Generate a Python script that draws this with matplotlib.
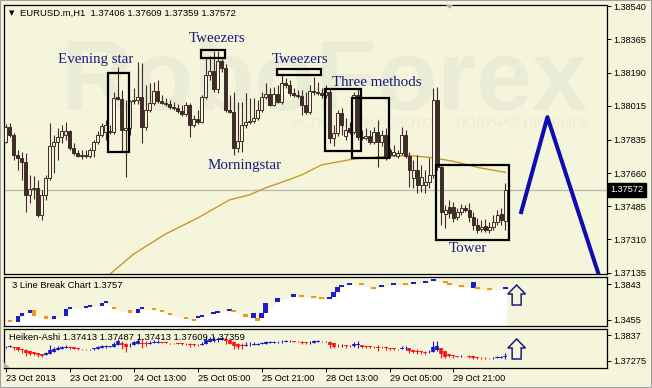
import matplotlib
matplotlib.use("Agg")
import matplotlib.pyplot as plt
import numpy as np
from matplotlib.patches import Rectangle, Polygon
from matplotlib.transforms import ScaledTranslation

plt.rcParams['font.family'] = ['Liberation Sans', 'DejaVu Sans']

W, H, DPI = 652, 388, 100
BG = '#f5f5dc'
CANDLE = '#3f2b27'
NAVY = '#1a1a7e'

# ---------------- data ----------------
title_text = "EURUSD.m,H1  1.37406 1.37609 1.37359 1.37572"

opens = [1.37824, 1.37903, 1.37860, 1.37755, 1.37740, 1.37719, 1.37545, 1.37576, 1.37582, 1.37440,
         1.37545, 1.37634, 1.37803, 1.37824, 1.37850, 1.37860, 1.37882, 1.37792, 1.37766, 1.37750,
         1.37755, 1.37750, 1.37782, 1.37824, 1.37860, 1.37876, 1.37882, 1.37876, 1.38061, 1.38050,
         1.37887, 1.37897, 1.38040, 1.38045, 1.38061, 1.37903, 1.37992, 1.38029, 1.38092, 1.38040,
         1.38029, 1.38024, 1.38008, 1.38003, 1.37987, 1.37971, 1.38019, 1.37913, 1.37945, 1.37929,
         1.38061, 1.38177, 1.38198, 1.38103, 1.38251, 1.38214, 1.37992, 1.37982, 1.37792, 1.37829,
         1.37913, 1.37929, 1.37934, 1.37950, 1.37992, 1.38061, 1.38077, 1.38019, 1.38077, 1.38034,
         1.38135, 1.38124, 1.38082, 1.38071, 1.38066, 1.38019, 1.37982, 1.38092, 1.38087, 1.38082,
         1.38071, 1.38087, 1.37845, 1.37871, 1.37976, 1.37855, 1.37897, 1.37876, 1.38071, 1.37850,
         1.37845, 1.37855, 1.37824, 1.37876, 1.37824, 1.37860, 1.37782, 1.37755, 1.37750, 1.37766,
         1.37860, 1.37750, 1.37634, 1.37676, 1.37598, 1.37598, 1.37613, 1.37650, 1.38045, 1.37692,
         1.37445, 1.37482, 1.37482, 1.37429, 1.37455, 1.37477, 1.37466, 1.37429, 1.37387, 1.37366,
         1.37381, 1.37361, 1.37376, 1.37403, 1.37445, 1.37406]
highs = [1.37919, 1.37924, 1.37871, 1.37782, 1.37771, 1.37766, 1.37650, 1.37645, 1.37624, 1.37571,
         1.37650, 1.37924, 1.37860, 1.37897, 1.37913, 1.37929, 1.37887, 1.37818, 1.37782, 1.37782,
         1.37782, 1.37792, 1.37834, 1.37882, 1.37924, 1.37940, 1.37913, 1.38087, 1.38219, 1.38098,
         1.38045, 1.38045, 1.38108, 1.38245, 1.38240, 1.38124, 1.38135, 1.38140, 1.38150, 1.38071,
         1.38056, 1.38045, 1.38034, 1.38024, 1.38019, 1.38034, 1.38029, 1.37966, 1.37992, 1.38071,
         1.38266, 1.38277, 1.38303, 1.38303, 1.38261, 1.38235, 1.38071, 1.38087, 1.38034, 1.38034,
         1.38082, 1.38056, 1.38056, 1.38045, 1.38087, 1.38135, 1.38108, 1.38114, 1.38124, 1.38177,
         1.38161, 1.38150, 1.38108, 1.38098, 1.38098, 1.38087, 1.38124, 1.38166, 1.38140, 1.38108,
         1.38124, 1.38108, 1.37913, 1.37992, 1.38003, 1.37950, 1.37929, 1.38087, 1.38108, 1.37887,
         1.37897, 1.37887, 1.37903, 1.37940, 1.37887, 1.37897, 1.37792, 1.37808, 1.37782, 1.37903,
         1.37887, 1.37771, 1.37729, 1.37755, 1.37703, 1.37676, 1.37740, 1.38108, 1.38114, 1.37703,
         1.37492, 1.37519, 1.37508, 1.37477, 1.37498, 1.37492, 1.37503, 1.37455, 1.37424, 1.37413,
         1.37419, 1.37403, 1.37440, 1.37466, 1.37477, 1.37609]
lows = [1.37818, 1.37850, 1.37729, 1.37676, 1.37624, 1.37455, 1.37503, 1.37524, 1.37429, 1.37413,
        1.37519, 1.37624, 1.37660, 1.37729, 1.37818, 1.37834, 1.37782, 1.37755, 1.37745, 1.37734,
        1.37740, 1.37740, 1.37745, 1.37813, 1.37850, 1.37834, 1.37866, 1.37866, 1.38045, 1.37771,
        1.37640, 1.37860, 1.38024, 1.38024, 1.37818, 1.37887, 1.37982, 1.38019, 1.38029, 1.38024,
        1.38013, 1.37998, 1.37992, 1.37976, 1.37961, 1.37961, 1.37850, 1.37903, 1.37919, 1.37924,
        1.38050, 1.38150, 1.38087, 1.38082, 1.38193, 1.37982, 1.37976, 1.37755, 1.37771, 1.37771,
        1.37897, 1.37919, 1.37924, 1.37940, 1.37982, 1.38050, 1.38013, 1.38013, 1.38029, 1.38024,
        1.38108, 1.38066, 1.38061, 1.38056, 1.37966, 1.37971, 1.37971, 1.38071, 1.38071, 1.38056,
        1.38056, 1.37818, 1.37803, 1.37855, 1.37860, 1.37834, 1.37866, 1.37866, 1.37834, 1.37834,
        1.37834, 1.37813, 1.37813, 1.37692, 1.37803, 1.37729, 1.37740, 1.37750, 1.37740, 1.37755,
        1.37740, 1.37587, 1.37582, 1.37555, 1.37561, 1.37555, 1.37582, 1.37634, 1.37676, 1.37387,
        1.37371, 1.37424, 1.37403, 1.37413, 1.37440, 1.37455, 1.37403, 1.37361, 1.37345, 1.37350,
        1.37350, 1.37345, 1.37361, 1.37387, 1.37387, 1.37359]
closes = [1.37903, 1.37860, 1.37755, 1.37740, 1.37719, 1.37545, 1.37576, 1.37582, 1.37440, 1.37545,
          1.37634, 1.37803, 1.37824, 1.37850, 1.37882, 1.37882, 1.37792, 1.37766, 1.37750, 1.37755,
          1.37750, 1.37782, 1.37824, 1.37860, 1.37908, 1.37913, 1.37876, 1.38056, 1.38050, 1.37887,
          1.37897, 1.38040, 1.38045, 1.38061, 1.37903, 1.37992, 1.38029, 1.38092, 1.38040, 1.38029,
          1.38024, 1.38008, 1.38003, 1.37987, 1.37971, 1.38019, 1.37913, 1.37945, 1.37929, 1.38061,
          1.38177, 1.38198, 1.38103, 1.38251, 1.38214, 1.37992, 1.37982, 1.37792, 1.37829, 1.37913,
          1.37929, 1.37934, 1.37950, 1.37992, 1.38061, 1.38077, 1.38019, 1.38077, 1.38034, 1.38135,
          1.38124, 1.38082, 1.38071, 1.38066, 1.38019, 1.37982, 1.38092, 1.38087, 1.38082, 1.38071,
          1.38087, 1.37845, 1.37871, 1.37976, 1.37913, 1.37887, 1.37876, 1.38071, 1.37850, 1.37845,
          1.37855, 1.37824, 1.37876, 1.37824, 1.37860, 1.37740, 1.37755, 1.37771, 1.37766, 1.37860,
          1.37750, 1.37676, 1.37676, 1.37598, 1.37640, 1.37613, 1.37650, 1.38045, 1.37692, 1.37455,
          1.37466, 1.37450, 1.37424, 1.37455, 1.37477, 1.37466, 1.37429, 1.37387, 1.37361, 1.37376,
          1.37361, 1.37376, 1.37403, 1.37440, 1.37413, 1.37572]

ma_idx = [25, 32, 40, 48, 56, 61, 65, 70, 74, 79, 87, 95, 101, 107, 112, 118, 125]
ma_val = [1.37108, 1.37233, 1.37339, 1.37423, 1.37519, 1.37545, 1.37582, 1.37619, 1.37650,
          1.37703, 1.37734, 1.37748, 1.37753, 1.37740, 1.37722, 1.37690, 1.37664]

last_price = 1.37572
price_ticks = [1.38540, 1.38365, 1.38190, 1.38015, 1.37835, 1.37660, 1.37485, 1.37310, 1.37135]

# 3 Line Break bricks: bar index, level from, level to
lb_title = "3 Line Break Chart 1.3757"
lb_idx = [1, 3, 4, 6, 7, 10, 12, 15, 16, 20, 21, 24, 25, 27, 31, 33, 34, 37, 39, 41, 45, 47, 48, 49,
          52, 53, 56, 57, 60, 62, 63, 64, 65, 68, 72, 74, 77, 79, 81, 82, 83, 84, 86, 89, 92, 94,
          97, 100, 102, 105, 107, 110, 111, 114, 117, 118, 121, 125]
lb_from = [1.3455, 1.3433, 1.3498, 1.3530, 1.3563, 1.3498, 1.3466, 1.3498, 1.3574, 1.3588, 1.3595,
           1.3606, 1.3638, 1.3588, 1.3563, 1.3534, 1.3574, 1.3584, 1.3563, 1.3534, 1.3490, 1.3466,
           1.3473, 1.3490, 1.3516, 1.3534, 1.3552, 1.3557, 1.3520, 1.3473, 1.3473, 1.3473, 1.3534,
           1.3652, 1.3708, 1.3714, 1.3700, 1.3689, 1.3681, 1.3706, 1.3760, 1.3811, 1.3832, 1.3840,
           1.3807, 1.3807, 1.3832, 1.3838, 1.3838, 1.3851, 1.3875, 1.3875, 1.3851, 1.3821, 1.3797,
           1.3797, 1.3784, 1.3786]
lb_to = [1.3433, 1.3498, 1.3530, 1.3563, 1.3498, 1.3466, 1.3498, 1.3574, 1.3588, 1.3595, 1.3606,
         1.3638, 1.3652, 1.3574, 1.3534, 1.3574, 1.3584, 1.3563, 1.3545, 1.3509, 1.3466, 1.3447,
         1.3490, 1.3509, 1.3527, 1.3545, 1.3570, 1.3545, 1.3490, 1.3534, 1.3447, 1.3534, 1.3638,
         1.3692, 1.3719, 1.3700, 1.3689, 1.3678, 1.3706, 1.3760, 1.3811, 1.3832, 1.3843, 1.3829,
         1.3789, 1.3832, 1.3840, 1.3827, 1.3845, 1.3861, 1.3886, 1.3851, 1.3832, 1.3807, 1.3861,
         1.3786, 1.3775, 1.3797]
lb_ticks = [1.3843, 1.3455]

ha_title = "Heiken-Ashi 1.37413 1.37487 1.37413 1.37609 1.37359"
ha_ticks = [1.3837, 1.37275]
ha_tick_labels = ["1.3837", "1.37275"]

time_idx = [0, 16, 32, 48, 64, 80, 96, 112]
time_labels = ["23 Oct 2013", "23 Oct 21:00", "24 Oct 13:00", "25 Oct 05:00",
               "25 Oct 21:00", "28 Oct 13:00", "29 Oct 05:00", "29 Oct 21:00"]

# pattern annotations (bar index / price)
box_x0 = [25.65, 48.75, 67.8, 79.8, 86.65, 107.75]
box_x1 = [30.9, 54.9, 78.8, 88.8, 95.8, 125.9]
box_top = [1.38189, 1.38308, 1.38208, 1.38101, 1.38057, 1.37703]
box_bot = [1.37773, 1.38266, 1.38177, 1.37778, 1.37741, 1.37308]

label_text = ["Evening star", "Tweezers", "Tweezers", "Three methods", "Morningstar", "Tower"]
label_x = [22.6, 52.8, 73.6, 92.8, 59.7, 115.6]
label_y = [1.38261, 1.38371, 1.38261, 1.38140, 1.37698, 1.37261]

forecast_idx = [128.8, 135.5, 148.4]
forecast_val = [1.37444, 1.37955, 1.37120]

# ---------------- figure ----------------
fig = plt.figure(figsize=(W / DPI, H / DPI), dpi=DPI, facecolor=BG)


def px_axes(l, t, r, b):
    a = fig.add_axes([l / W, 1 - b / H, (r - l) / W, (b - t) / H])
    a.set_facecolor(BG)
    for s in a.spines.values():
        s.set_color('black')
        s.set_linewidth(0.9)
    a.set_xlim(-0.425, 150.4)
    a.yaxis.tick_right()
    a.tick_params(axis='y', direction='out', length=3, width=0.7, pad=1.5,
                  labelsize=6.6, colors='black')
    a.tick_params(axis='x', bottom=False, labelbottom=False)
    return a


ax1 = px_axes(4, 5, 607, 274)
ax2 = px_axes(4, 277, 607, 326)
ax3 = px_axes(4, 329, 607, 368)

O = np.array(opens); Hh = np.array(highs); L = np.array(lows); C = np.array(closes)
n = len(O)
x = np.arange(n)

# ----- main panel -----
ax1.set_ylim(1.37128, 1.38546)
ax1.set_yticks(price_ticks)
ax1.set_yticklabels([f"{v:.5f}" for v in price_ticks])

ax1.text(0.093, 0.61, "RoboForex", transform=ax1.transAxes, fontsize=72,
         fontweight='bold', color='#eaecd6', ha='left', va='baseline', zorder=0)
ax1.text(0.97, 0.545, "ИСПОЛЬЗУЙ РОБОТОВ – ПОЛУЧАЙ ПРИБЫЛЬ", transform=ax1.transAxes,
         fontsize=9.5, color='#e9ebd5', ha='right', va='baseline', zorder=0)

ax1.axhline(last_price, color='#b8b8b0', lw=0.9, zorder=1)
ax1.plot(ma_idx, ma_val, color='#c8982a', lw=1.0, zorder=2)

up = C >= O
ax1.vlines(x, L, Hh, color=CANDLE, lw=0.8, zorder=3)
ax1.bar(x, np.maximum(np.abs(C - O), 0.000005), bottom=np.minimum(O, C), width=0.7,
        color=np.where(up, BG, CANDLE), edgecolor=CANDLE, linewidth=0.7, zorder=4)

for x0, x1, t, b in zip(box_x0, box_x1, box_top, box_bot):
    ax1.add_patch(Rectangle((x0, b), x1 - x0, t - b, fill=False, ec='black', lw=1.6, zorder=5))

for s, lx, ly in zip(label_text, label_x, label_y):
    ax1.text(lx, ly, s, family='Liberation Serif', fontsize=10.8, color=NAVY,
             ha='center', va='center', zorder=6)

ax1.plot(forecast_idx, forecast_val, color='#0c0cb0', lw=2.9, zorder=6,
         solid_capstyle='butt')

ax1.annotate(f"{last_price:.5f}", xy=(1.0, last_price), xycoords=('axes fraction', 'data'),
             xytext=(2.5, 0), textcoords='offset points', fontsize=6.6, color='white',
             va='center', ha='left',
             bbox=dict(boxstyle='square,pad=0.25', fc='black', ec='black'))

# chart shift marker
ax1.add_patch(Polygon([[0.733, 1.0], [0.745, 1.0], [0.739, 0.986]], closed=True,
                      transform=ax1.transAxes, fc='#a8a8a8', ec='none', clip_on=False, zorder=7))

fig.text(9 / W, 1 - 13.5 / H, "▼", fontsize=5, color='black', va='center', ha='left',
         family='DejaVu Sans')
fig.text(20 / W, 1 - 13.5 / H, title_text, fontsize=6.8, color='black', va='center', ha='left')

# ----- 3 line break panel -----
ax2.set_ylim(1.33902, 1.39185)
ax2.set_yticks(lb_ticks)
ax2.set_yticklabels([f"{v:.4f}" for v in lb_ticks])
lo = np.minimum(lb_from, lb_to)
hi = np.maximum(lb_from, lb_to)
fill_x = [-0.425] + lb_idx + [125.3]
fill_y = [lb_from[0]] + list(lo) + [lo[-1]]
ax2.fill_between(fill_x, 1.33902, fill_y, color='white', lw=0, zorder=1)
lb_col = ['#1e1ec8' if t > f else '#f0961e' for f, t in zip(lb_from, lb_to)]
ax2.bar(lb_idx, np.maximum(hi - lo, 0.0022), bottom=lo, width=1.05, color=lb_col,
        lw=0, zorder=2)
ax2.text(8 / 603, 0.82, lb_title, transform=ax2.transAxes, fontsize=6.8, va='center', ha='left')

# ----- heiken ashi panel -----
ha_close = (O + Hh + L + C) / 4
ha_open = np.empty(n)
ha_open[0] = (O[0] + C[0]) / 2
for i in range(1, n):
    ha_open[i] = (ha_open[i - 1] + ha_close[i - 1]) / 2
ha_high = np.maximum.reduce([Hh, ha_open, ha_close])
ha_low = np.minimum.reduce([L, ha_open, ha_close])
ha_col = np.where(ha_close >= ha_open, '#1414c8', '#ff1010')

ax3.set_ylim(1.36964, 1.38626)
ax3.set_yticks(ha_ticks)
ax3.set_yticklabels(ha_tick_labels)
ax3.vlines(x, ha_low, ha_high, colors=ha_col, lw=0.8, zorder=2)
ax3.vlines(x, ha_open, ha_close, colors=ha_col, lw=2.6, zorder=3)
ax3.text(5 / 603, 0.78, ha_title, transform=ax3.transAxes, fontsize=6.8, va='center',
         ha='left', zorder=4)
ax3.add_patch(Polygon([[0.0, 0.0], [0.0, 0.14], [0.011, 0.0]], closed=True,
                      transform=ax3.transAxes, fc='#b0b0b0', ec='none', zorder=5))

ax3.tick_params(axis='x', bottom=True, labelbottom=True, direction='out', length=3,
                width=0.7, pad=1.5, labelsize=6.6)
ax3.set_xticks(time_idx)
ax3.set_xticklabels(time_labels)
for lab in ax3.get_xticklabels():
    lab.set_ha('left')

# hollow up arrows (signal markers)
arrow_shape = np.array([[0, 0], [8.8, -9], [4.5, -9], [4.5, -20], [-4.5, -20],
                        [-4.5, -9], [-8.8, -9]]) / DPI
for a, tip_y in ((ax2, 1.3832), (ax3, 1.3820)):
    tr = fig.dpi_scale_trans + ScaledTranslation(127.8, tip_y, a.transData)
    a.add_patch(Polygon(arrow_shape, closed=True, transform=tr, fc=BG, ec=NAVY,
                        lw=1.1, clip_on=False, zorder=6))

fig.patches.append(Rectangle((0, 0), 1, 1, transform=fig.transFigure, fill=False,
                             ec='#a0a0a0', lw=1.5))

fig.savefig("out.png", dpi=DPI, facecolor=BG)
